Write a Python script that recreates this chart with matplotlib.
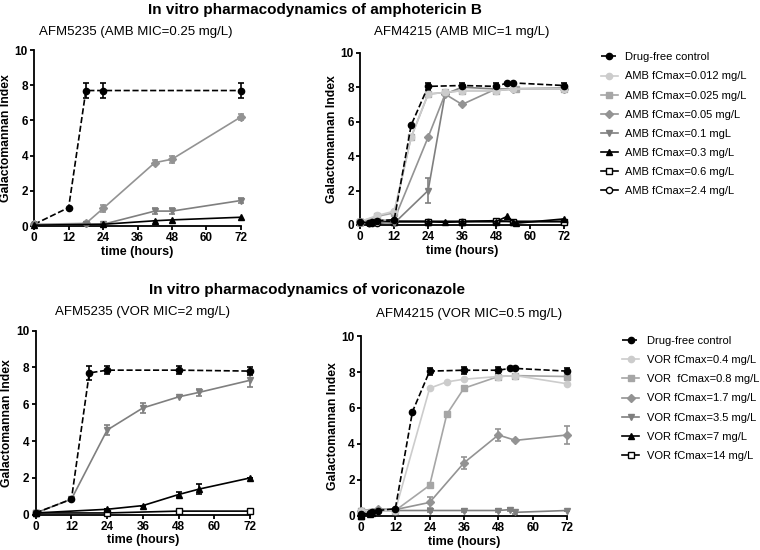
import matplotlib
matplotlib.use("Agg")
import matplotlib.pyplot as plt

plt.rcParams["font.family"] = ["Liberation Sans", "DejaVu Sans"]

# ---- data -------------------------------------------------------------
# AMB, AFM5235
amb1_ctrl_t = [0, 12, 18, 24, 72]
amb1_ctrl_y = [0.1, 1.05, 7.7, 7.7, 7.7]
amb1_ctrl_e = [0, 0, 0.4, 0.4, 0.4]
amb1_005_t = [0, 18, 24, 42, 48, 72]
amb1_005_y = [0.1, 0.15, 1.0, 3.6, 3.8, 6.2]
amb1_005_e = [0, 0, 0.2, 0.15, 0.2, 0.15]
amb1_01_t = [0, 18, 24, 42, 48, 72]
amb1_01_y = [0.05, 0.1, 0.1, 0.85, 0.85, 1.45]
amb1_01_e = [0, 0, 0, 0.15, 0.15, 0.12]
amb1_03_t = [0, 24, 42, 48, 72]
amb1_03_y = [0.05, 0.1, 0.3, 0.35, 0.5]

# AMB, AFM4215
amb2_ctrl_t = [0, 3, 4, 6, 12, 18, 24, 36, 48, 52, 54, 72]
amb2_ctrl_y = [0.2, 0.1, 0.15, 0.25, 0.3, 5.8, 8.05, 8.1, 8.05, 8.25, 8.25, 8.1]
amb2_ctrl_e = [0, 0, 0, 0, 0, 0, 0.2, 0.15, 0.2, 0, 0, 0.15]
amb2_0012_t = [0, 6, 12, 18, 24, 30, 36, 48, 54, 72]
amb2_0012_y = [0.2, 0.55, 0.8, 5.1, 7.6, 7.7, 7.8, 7.8, 7.9, 7.9]
amb2_0025_t = [0, 6, 12, 18, 24, 30, 36, 48, 55, 72]
amb2_0025_y = [0.2, 0.5, 0.7, 5.1, 7.6, 7.7, 7.8, 7.8, 7.9, 7.9]
amb2_005_t = [0, 12, 24, 30, 36, 48, 54, 72]
amb2_005_y = [0.2, 0.3, 5.1, 7.6, 7.0, 7.9, 7.9, 7.9]
amb2_01_t = [0, 12, 24, 30, 36, 48, 72]
amb2_01_y = [0.2, 0.1, 2.0, 7.6, 8.0, 7.9, 7.95]
amb2_01_e = [0, 0, 0.7, 0, 0, 0, 0]
amb2_03_t = [0, 12, 24, 30, 36, 48, 52, 54, 55, 72]
amb2_03_y = [0.2, 0.2, 0.2, 0.15, 0.2, 0.2, 0.5, 0.2, 0.1, 0.35]
amb2_06_t = [0, 12, 24, 36, 48, 54, 72]
amb2_06_y = [0.2, 0.2, 0.2, 0.2, 0.25, 0.2, 0.2]
amb2_24_t = [0, 3, 4, 6, 12, 24, 36, 48, 72]
amb2_24_y = [0.2, 0.1, 0.1, 0.1, 0.2, 0.2, 0.2, 0.2, 0.2]

# VOR, AFM5235
vor1_ctrl_t = [0, 12, 18, 24, 48, 72]
vor1_ctrl_y = [0.1, 0.85, 7.7, 7.85, 7.85, 7.8]
vor1_ctrl_e = [0, 0, 0.4, 0.2, 0.2, 0.2]
vor1_35_t = [0, 12, 24, 36, 48, 55, 72]
vor1_35_y = [0.1, 0.85, 4.6, 5.8, 6.4, 6.65, 7.3]
vor1_35_e = [0, 0.1, 0.25, 0.25, 0, 0.2, 0.35]
vor1_7_t = [0, 24, 36, 48, 55, 72]
vor1_7_y = [0.1, 0.3, 0.5, 1.1, 1.4, 2.0]
vor1_7_e = [0, 0, 0, 0.15, 0.25, 0]
vor1_14_t = [0, 24, 48, 72]
vor1_14_y = [0.1, 0.1, 0.2, 0.2]

# VOR, AFM4215
vor2_ctrl_t = [0, 3, 4, 6, 12, 18, 24, 36, 48, 52, 54, 72]
vor2_ctrl_y = [0.1, 0.15, 0.2, 0.3, 0.4, 5.8, 8.05, 8.1, 8.1, 8.2, 8.2, 8.05]
vor2_ctrl_e = [0, 0, 0, 0, 0, 0, 0.2, 0.2, 0.2, 0, 0, 0.2]
vor2_04_t = [0, 12, 24, 30, 36, 48, 54, 72]
vor2_04_y = [0.3, 0.3, 7.1, 7.45, 7.6, 7.75, 7.8, 7.35]
vor2_08_t = [0, 12, 24, 30, 36, 48, 54, 72]
vor2_08_y = [0.3, 0.3, 1.7, 5.65, 7.1, 7.75, 7.8, 7.75]
vor2_17_t = [0, 6, 12, 24, 36, 48, 54, 72]
vor2_17_y = [0.3, 0.4, 0.35, 0.75, 2.95, 4.5, 4.2, 4.5]
vor2_17_e = [0, 0, 0, 0.3, 0.35, 0.35, 0, 0.5]
vor2_35_t = [0, 12, 24, 36, 48, 52, 54, 72]
vor2_35_y = [0.3, 0.3, 0.3, 0.3, 0.3, 0.35, 0.2, 0.3]
vor2_35_e = [0, 0, 0.1, 0.1, 0.1, 0.1, 0.1, 0]
vor2_7_t = [0, 3, 4]
vor2_7_y = [0.0, 0.1, 0.15]
vor2_14_t = [0]
vor2_14_y = [0.0]

amb_labels = ["Drug-free control", "AMB fCmax=0.012 mg/L", "AMB fCmax=0.025 mg/L",
              "AMB fCmax=0.05 mg/L", "AMB fCmax=0.1 mgL", "AMB fCmax=0.3 mg/L",
              "AMB fCmax=0.6 mg/L", "AMB fCmax=2.4 mg/L"]
vor_labels = ["Drug-free control", "VOR fCmax=0.4 mg/L", "VOR  fCmax=0.8 mg/L",
              "VOR fCmax=1.7 mg/L", "VOR fCmax=3.5 mg/L", "VOR fCmax=7 mg/L",
              "VOR fCmax=14 mg/L"]

# styles: colour, marker, face colour, line style
ctrl_s = dict(color="black", marker="o", mfc="black", ls="--")
s0 = dict(color="#cccccc", marker="o", mfc="#cccccc", ls="-")
s1 = dict(color="#a6a6a6", marker="s", mfc="#a6a6a6", ls="-")
s2 = dict(color="#939393", marker="D", mfc="#939393", ls="-")
s3 = dict(color="#7f7f7f", marker="v", mfc="#7f7f7f", ls="-")
s4 = dict(color="black", marker="^", mfc="black", ls="-")
s5 = dict(color="black", marker="s", mfc="white", ls="-")
s6 = dict(color="black", marker="o", mfc="white", ls="-")


def draw(ax, t, y, style, err=None, label=None):
    ms = 4.5 if style["marker"] != "D" else 3.8
    ax.errorbar(t, y, yerr=err, color=style["color"], marker=style["marker"],
                mfc=style["mfc"], mec=style["color"], ms=ms, ls=style["ls"],
                lw=1.2, capsize=2.5, elinewidth=1.2, capthick=1.2,
                clip_on=False, label=label, zorder=3)


def style_axes(ax):
    ax.set_xlim(0, 72)
    ax.set_ylim(0, 10)
    ax.set_xticks(range(0, 73, 12))
    ax.set_yticks(range(0, 11, 2))
    for s in ["top", "right"]:
        ax.spines[s].set_visible(False)
    for s in ["left", "bottom"]:
        ax.spines[s].set_linewidth(1.3)
    ax.tick_params(width=1.3, length=3, labelsize=8.5, pad=1.5)
    for lab in ax.get_xticklabels() + ax.get_yticklabels():
        lab.set_fontweight("bold")
    ax.set_xlabel("time (hours)", fontsize=9, fontweight="bold", labelpad=1)
    ax.set_ylabel("Galactomannan Index", fontsize=8.8, fontweight="bold", labelpad=2)


fig = plt.figure(figsize=(7.6, 5.5), dpi=100)
ax1 = fig.add_axes([0.045, 0.589, 0.272, 0.320])
ax2 = fig.add_axes([0.474, 0.591, 0.268, 0.313])
ax3 = fig.add_axes([0.047, 0.064, 0.282, 0.335])
ax4 = fig.add_axes([0.475, 0.062, 0.271, 0.327])

# top-left
draw(ax1, amb1_ctrl_t, amb1_ctrl_y, ctrl_s, amb1_ctrl_e)
draw(ax1, amb1_005_t, amb1_005_y, s2, amb1_005_e)
draw(ax1, amb1_01_t, amb1_01_y, s3, amb1_01_e)
draw(ax1, amb1_03_t, amb1_03_y, s4)

# top-right
draw(ax2, amb2_24_t, amb2_24_y, s6, label=amb_labels[7])
draw(ax2, amb2_06_t, amb2_06_y, s5, label=amb_labels[6])
draw(ax2, amb2_03_t, amb2_03_y, s4, label=amb_labels[5])
draw(ax2, amb2_01_t, amb2_01_y, s3, amb2_01_e, label=amb_labels[4])
draw(ax2, amb2_005_t, amb2_005_y, s2, label=amb_labels[3])
draw(ax2, amb2_0025_t, amb2_0025_y, s1, label=amb_labels[2])
draw(ax2, amb2_0012_t, amb2_0012_y, s0, label=amb_labels[1])
draw(ax2, amb2_ctrl_t, amb2_ctrl_y, ctrl_s, amb2_ctrl_e, label=amb_labels[0])

# bottom-left
draw(ax3, vor1_14_t, vor1_14_y, s5)
draw(ax3, vor1_7_t, vor1_7_y, s4, vor1_7_e)
draw(ax3, vor1_35_t, vor1_35_y, s3, vor1_35_e)
draw(ax3, vor1_ctrl_t, vor1_ctrl_y, ctrl_s, vor1_ctrl_e)

# bottom-right
draw(ax4, vor2_14_t, vor2_14_y, s5, label=vor_labels[6])
draw(ax4, vor2_7_t, vor2_7_y, s4, label=vor_labels[5])
draw(ax4, vor2_35_t, vor2_35_y, s3, vor2_35_e, label=vor_labels[4])
draw(ax4, vor2_17_t, vor2_17_y, s2, vor2_17_e, label=vor_labels[3])
draw(ax4, vor2_08_t, vor2_08_y, s1, label=vor_labels[2])
draw(ax4, vor2_04_t, vor2_04_y, s0, label=vor_labels[1])
draw(ax4, vor2_ctrl_t, vor2_ctrl_y, ctrl_s, vor2_ctrl_e, label=vor_labels[0])

for ax in (ax1, ax2, ax3, ax4):
    style_axes(ax)

for ax, pos in ((ax2, (0.785, 0.913)), (ax4, (0.813, 0.397))):
    h, l = ax.get_legend_handles_labels()
    h = [x[0] for x in h[::-1]]
    l = l[::-1]
    ax.legend(h, l, loc="upper left", bbox_to_anchor=pos,
              bbox_transform=fig.transFigure, frameon=False, fontsize=8.0,
              handlelength=1.5, labelspacing=0.82, borderaxespad=0,
              handletextpad=0.7)

fig.text(0.415, 0.982, "In vitro pharmacodynamics of amphotericin B",
         ha="center", va="center", fontsize=11, fontweight="bold")
fig.text(0.178, 0.942, "AFM5235 (AMB MIC=0.25 mg/L)", ha="center", va="center", fontsize=9.5)
fig.text(0.608, 0.942, "AFM4215 (AMB MIC=1 mg/L)", ha="center", va="center", fontsize=9.5)
fig.text(0.404, 0.472, "In vitro pharmacodynamics of voriconazole",
         ha="center", va="center", fontsize=11, fontweight="bold")
fig.text(0.187, 0.433, "AFM5235 (VOR MIC=2 mg/L)", ha="center", va="center", fontsize=9.5)
fig.text(0.617, 0.430, "AFM4215 (VOR MIC=0.5 mg/L)", ha="center", va="center", fontsize=9.5)

fig.savefig("out.png", dpi=100)
